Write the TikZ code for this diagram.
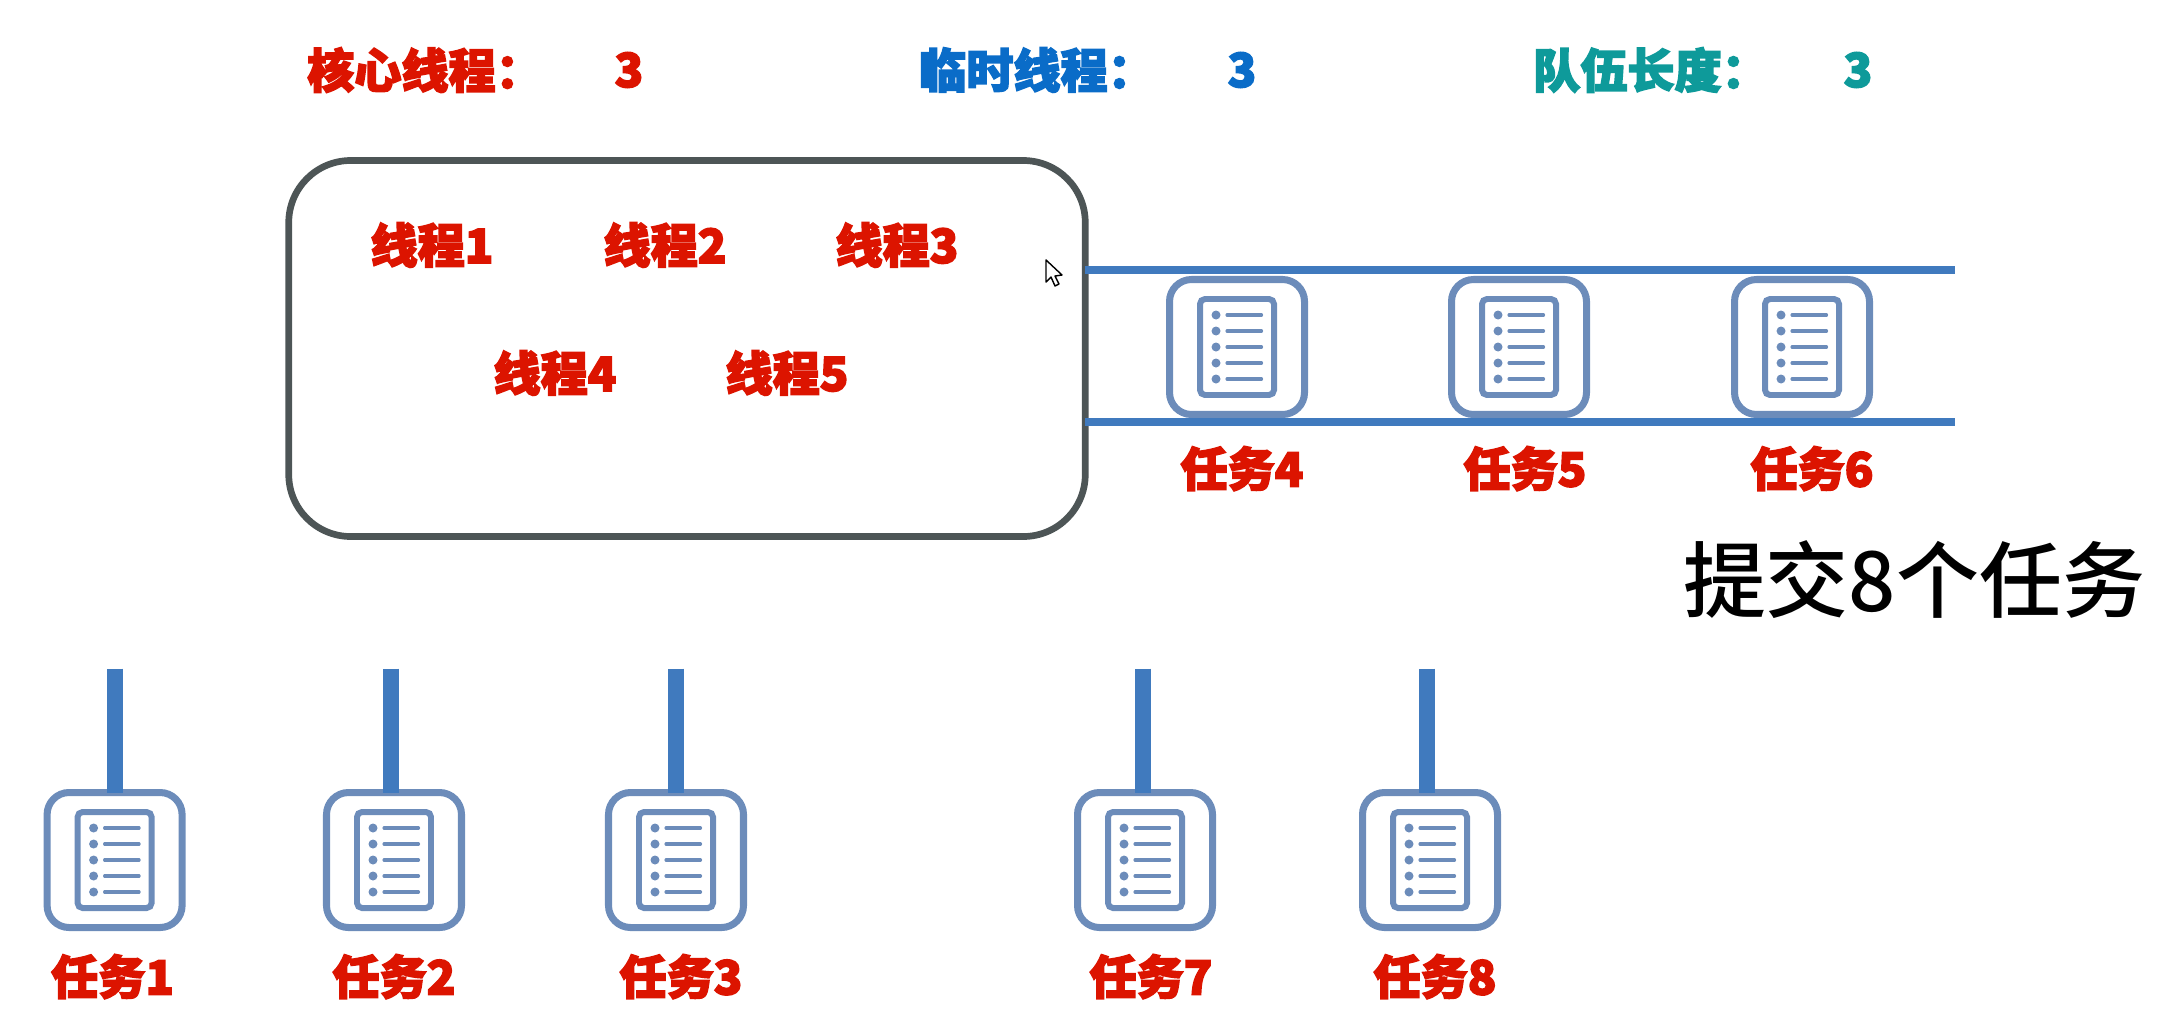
\documentclass[tikz,border=0pt]{standalone}
\usepackage{fontspec}
\usetikzlibrary{positioning}

\newfontfamily\cjkfat[BoldFont={Noto Sans CJK SC Black}, BoldFeatures={FakeBold=3.2}]{Noto Sans CJK SC}
\newfontfamily\cjkplain{Noto Sans CJK SC Medium}

\definecolor{poolgrey}{RGB}{77,85,86}
\definecolor{queueblue}{RGB}{64,122,190}
\definecolor{iconblue}{RGB}{108,140,186}
\definecolor{threadred}{RGB}{220,20,0}
\definecolor{tempblue}{RGB}{10,108,200}
\definecolor{queueteal}{RGB}{14,154,154}

\begin{document}
\begin{tikzpicture}[
        % Text styles
        fatlabel/.style={inner sep=0pt, font=\cjkfat\bfseries\fontsize{13.4}{15}\selectfont},
        redlabel/.style={fatlabel, text=threadred},
        % Icon and line styles
        taskbox/.style={
                draw=iconblue, line width=2pt, rounded corners=0.22cm,
                minimum width=1.35cm, minimum height=1.35cm,
                inner sep=0pt, outer sep=0pt
            },
        pagebox/.style={
                draw=iconblue, line width=1.7pt, rounded corners=0.05cm,
                minimum width=0.74cm, minimum height=0.96cm,
                inner sep=0pt, outer sep=0pt
            },
        pool/.style={
                draw=poolgrey, line width=1.9pt, rounded corners=0.62cm,
                minimum width=7.965cm, minimum height=3.76cm,
                inner sep=0pt, outer sep=0pt
            },
        queueline/.style={draw=queueblue, line width=2.1pt},
        stemline/.style={draw=queueblue, line width=4.55pt},
        taskicon/.pic={
                \node[taskbox] (-box) {};
                \node[pagebox] (-page) {};
                \fill[iconblue] (-0.21,0.32) circle (0.045);
                \fill[iconblue] (-0.21,0.16) circle (0.045);
                \fill[iconblue] (-0.21,0) circle (0.045);
                \fill[iconblue] (-0.21,-0.16) circle (0.045);
                \fill[iconblue] (-0.21,-0.32) circle (0.045);
                \draw[iconblue, line width=0.9pt, line cap=round] (-0.10,0.32) -- (0.245,0.32);
                \draw[iconblue, line width=0.9pt, line cap=round] (-0.10,0.16) -- (0.245,0.16);
                \draw[iconblue, line width=0.9pt, line cap=round] (-0.10,0) -- (0.245,0);
                \draw[iconblue, line width=0.9pt, line cap=round] (-0.10,-0.16) -- (0.245,-0.16);
                \draw[iconblue, line width=0.9pt, line cap=round] (-0.10,-0.32) -- (0.245,-0.32);
            }
    ]

    \useasboundingbox (0,0) rectangle (21.63,10.32);

    %% ---- Top row: settings ----
    \node[redlabel] (coreName) at (4.25,9.62) {核心线程：};
    \node[redlabel] (coreNum) at (6.29,9.62) {3};
    \node[fatlabel, text=tempblue] (tempName) at (10.37,9.62) {临时线程：};
    \node[fatlabel, text=tempblue] (tempNum) at (12.42,9.62) {3};
    \node[fatlabel, text=queueteal] (lenName) at (16.51,9.62) {队伍长度：};
    \node[fatlabel, text=queueteal] (lenNum) at (18.58,9.62) {3};

    %% ---- Thread pool box and its threads ----
    \node[pool] (pool) at (6.87,6.835) {};
    \node[redlabel] (th1) at (4.32,7.87) {线程1};
    \node[redlabel] (th2) at (6.65,7.87) {线程2};
    \node[redlabel] (th3) at (8.97,7.87) {线程3};
    \node[redlabel] (th4) at (5.55,6.59) {线程4};
    \node[redlabel] (th5) at (7.87,6.59) {线程5};

    %% ---- Tasks waiting in the queue ----
    \pic (t4) at (12.37,6.85) {taskicon};
    \pic (t5) at (15.19,6.85) {taskicon};
    \pic (t6) at (18.02,6.85) {taskicon};
    \node[redlabel, below=0.31cm of t4-box, xshift=0.05cm] (t4name) {任务4};
    \node[redlabel, below=0.31cm of t5-box, xshift=0.06cm] (t5name) {任务5};
    \node[redlabel, below=0.31cm of t6-box, xshift=0.1cm] (t6name) {任务6};

    %% ---- Queue rails ----
    \coordinate (railTop) at (19.55,7.62);
    \coordinate (railBottom) at (19.55,6.10);
    \draw[queueline] (pool.east |- railTop) -- (railTop);
    \draw[queueline] (pool.east |- railBottom) -- (railBottom);

    %% ---- Submitted tasks ----
    \pic (t1) at (1.146,1.72) {taskicon};
    \pic (t2) at (3.94,1.72) {taskicon};
    \pic (t3) at (6.76,1.72) {taskicon};
    \pic (t7) at (11.45,1.72) {taskicon};
    \pic (t8) at (14.30,1.72) {taskicon};
    \node[redlabel, below=0.26cm of t1-box, xshift=-0.02cm] (t1name) {任务1};
    \node[redlabel, below=0.26cm of t2-box] (t2name) {任务2};
    \node[redlabel, below=0.26cm of t3-box, xshift=0.05cm] (t3name) {任务3};
    \node[redlabel, below=0.26cm of t7-box, xshift=0.06cm] (t7name) {任务7};
    \node[redlabel, below=0.26cm of t8-box, xshift=0.05cm] (t8name) {任务8};

    %% ---- Stems above the submitted tasks ----
    \draw[stemline] ([yshift=1.24cm] t1-box.north) -- (t1-box.north);
    \draw[stemline] ([xshift=-0.03cm, yshift=1.24cm] t2-box.north) -- ([xshift=-0.03cm] t2-box.north);
    \draw[stemline] ([yshift=1.24cm] t3-box.north) -- (t3-box.north);
    \draw[stemline] ([xshift=-0.02cm, yshift=1.24cm] t7-box.north) -- ([xshift=-0.02cm] t7-box.north);
    \draw[stemline] ([xshift=-0.03cm, yshift=1.24cm] t8-box.north) -- ([xshift=-0.03cm] t8-box.north);

    %% ---- Caption ----
    \node[inner sep=0pt, font=\cjkplain\fontsize{23.6}{26}\selectfont] (caption) at (19.14,4.52) {提交8个任务};

    %% ---- Mouse pointer ----
    \draw[black, line width=0.4pt, fill=white, line join=round]
    (10.46,7.72) -- (10.46,7.50) -- (10.51,7.55) -- (10.55,7.46) -- (10.59,7.48) -- (10.55,7.56) -- (10.62,7.57) -- cycle;

\end{tikzpicture}
\end{document}
